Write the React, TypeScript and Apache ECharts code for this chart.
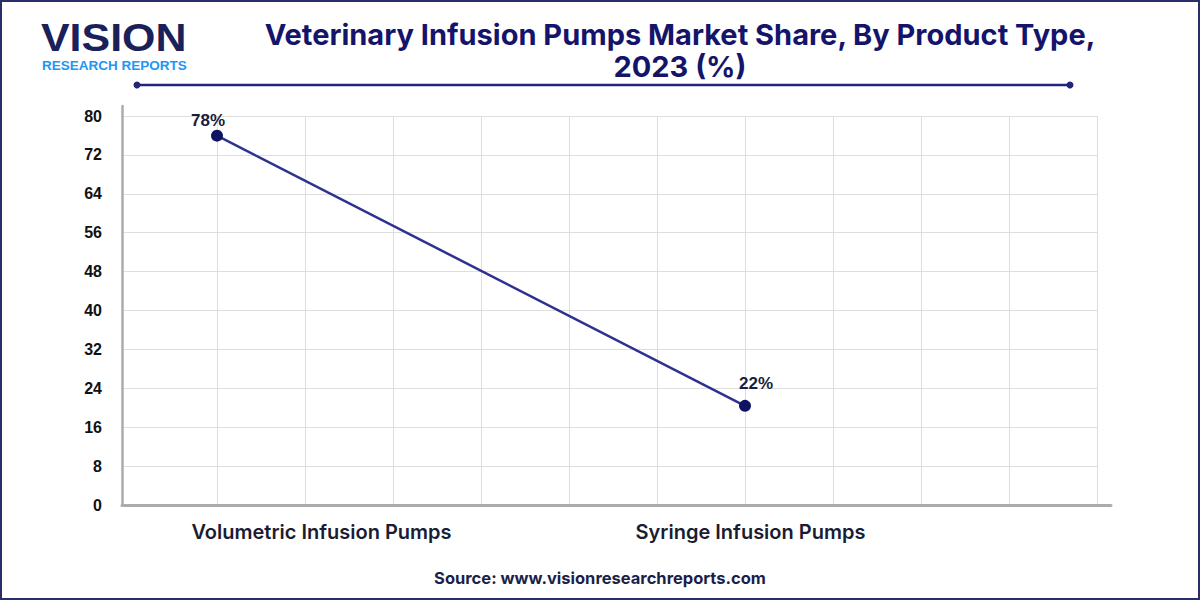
import React, { useEffect, useRef } from "react";
import * as echarts from "echarts";

const categories = ["Volumetric Infusion Pumps", "Syringe Infusion Pumps"];
const shareValues = [78, 22];
const pointColumns = [1, 7];
const yMax = 80;
const yInterval = 8;
const columnCount = 11;
const titleText = "Veterinary Infusion Pumps Market Share, By Product Type,\n2023 (%)";
const sourceText = "Source: www.visionresearchreports.com";

const labelOffsets = [
  [-9, 3],
  [11, -4],
];

export default function App() {
  const ref = useRef<HTMLDivElement>(null);
  useEffect(() => {
    if (!ref.current) return;
    const chart = echarts.init(ref.current, undefined, { renderer: "svg" });
    const gridColor = "#dedede";
    const axisColor = "#ababab";
    const hiddenY = { type: "value", min: 0, max: yMax, interval: yInterval, show: false };
    const option: any = {
      animation: false,
      backgroundColor: "#ffffff",
      grid: [
        { left: 122, top: 106, right: 89, bottom: 95 },
        { left: 122, top: 116, right: 103, bottom: 95 },
        { left: 217, top: 116, right: 103, bottom: 95 },
        { left: 129, top: 126, right: 103, bottom: 88 },
        { left: 107, top: 116, right: 235, bottom: 95 },
      ],
      xAxis: [
        {
          gridIndex: 0,
          type: "value",
          min: 0,
          max: 1,
          axisLine: { show: true, lineStyle: { color: axisColor, width: 3 } },
          axisTick: { show: false },
          axisLabel: { show: false },
          splitLine: { show: false },
        },
        { gridIndex: 1, type: "value", min: 0, max: 1, show: false },
        {
          gridIndex: 2,
          type: "value",
          min: 1,
          max: columnCount,
          interval: 1,
          axisLine: { show: false },
          axisTick: { show: false },
          axisLabel: { show: false },
          splitLine: { show: true, lineStyle: { color: gridColor, width: 1 } },
        },
        { gridIndex: 3, type: "value", min: 0, max: columnCount, show: false },
        {
          gridIndex: 4,
          type: "category",
          data: categories,
          axisLine: { show: false },
          axisTick: { show: false },
          splitLine: { show: false },
          axisLabel: {
            margin: 17,
            fontFamily: "Inter",
            fontWeight: 600,
            fontSize: 20,
            color: "#1a1c33",
          },
        },
      ],
      yAxis: [
        {
          gridIndex: 0,
          type: "value",
          min: 0,
          max: 1,
          axisLine: { show: true, lineStyle: { color: axisColor, width: 2.5 } },
          axisTick: { show: false },
          axisLabel: { show: false },
          splitLine: { show: false },
        },
        {
          gridIndex: 1,
          type: "value",
          min: 0,
          max: yMax,
          interval: yInterval,
          axisLine: { show: false },
          axisTick: { show: false },
          axisLabel: {
            margin: 20,
            fontFamily: "Liberation Sans",
            fontWeight: "bold",
            fontSize: 16,
            color: "#111111",
          },
          splitLine: { show: true, lineStyle: { color: gridColor, width: 1 } },
        },
        { gridIndex: 2, ...hiddenY },
        { gridIndex: 3, ...hiddenY },
        { gridIndex: 4, ...hiddenY },
      ],
      series: [
        {
          type: "line",
          xAxisIndex: 3,
          yAxisIndex: 3,
          data: shareValues.map((v, i) => ({
            value: [pointColumns[i], v],
            label: { offset: labelOffsets[i] },
          })),
          symbol: "circle",
          symbolSize: 12,
          lineStyle: { color: "#2f3190", width: 2.5 },
          itemStyle: { color: "#0f1462" },
          label: {
            show: true,
            position: "top",
            distance: 4,
            formatter: (p: any) => `${p.value[1]}%`,
            fontFamily: "Liberation Sans",
            fontWeight: "bold",
            fontSize: 17,
            color: "#1a1d3a",
          },
          z: 5,
        },
      ],
      graphic: [
        {
          type: "rect",
          shape: { x: 1, y: 1, width: 1198, height: 598 },
          style: { fill: "none", stroke: "#2b2d6b", lineWidth: 2 },
          silent: true,
        },
        {
          type: "text",
          x: 41,
          y: 18,
          scaleX: 1.1,
          style: {
            text: "VISION",
            font: "bold 39px 'Liberation Sans'",
            fill: "#1b1f5a",
            lineHeight: 39,
          },
        },
        {
          type: "text",
          x: 42,
          y: 58,
          style: {
            text: "RESEARCH REPORTS",
            font: "bold 13.5px 'Liberation Sans'",
            fill: "#2196f3",
            lineHeight: 14,
          },
        },
        {
          type: "text",
          x: 680,
          y: 18,
          style: {
            text: titleText,
            font: "bold 29px Inter",
            fill: "#14146b",
            textAlign: "center",
            lineHeight: 32,
          },
        },
        {
          type: "line",
          shape: { x1: 137, y1: 85, x2: 1070, y2: 85 },
          style: { stroke: "#23247a", lineWidth: 2.5 },
        },
        { type: "circle", shape: { cx: 137, cy: 85, r: 3.5 }, style: { fill: "#23247a" } },
        { type: "circle", shape: { cx: 1070, cy: 85, r: 3.5 }, style: { fill: "#23247a" } },
        {
          type: "text",
          x: 600,
          y: 569,
          style: {
            text: sourceText,
            font: "bold 16.5px Inter",
            fill: "#1b1f4a",
            textAlign: "center",
          },
        },
      ],
    };
    chart.setOption(option);
    return () => chart.dispose();
  }, []);
  return (
    <div
      ref={ref}
      style={{ position: "fixed", left: 0, top: 0, width: 1200, height: 600 }}
    />
  );
}
